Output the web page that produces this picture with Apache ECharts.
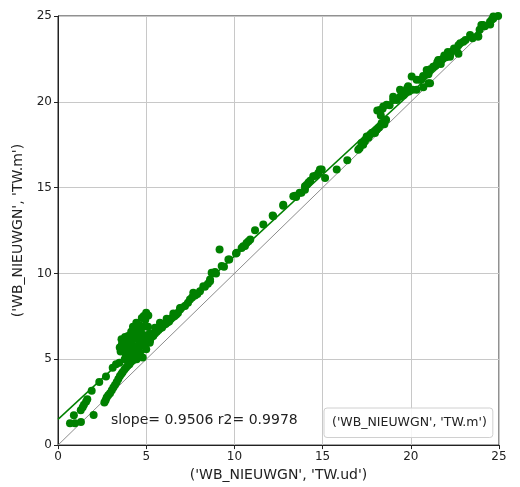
<!DOCTYPE html>
<html>
<head>
<meta charset="utf-8">
<script src="https://cdn.jsdelivr.net/npm/echarts@6/dist/echarts.min.js"></script>
<style>
  html, body { margin: 0; padding: 0; background: #fff; }
  #chart { width: 520px; height: 487px; }
</style>
</head>
<body>
<div id="chart"></div>
<script>
// Water temperature: TW.ud (x) against TW.m (y) at WB_NIEUWGN
const seriesName = "('WB_NIEUWGN', 'TW.m')";
const xAxisTitle = "('WB_NIEUWGN', 'TW.ud')";
const yAxisTitle = "('WB_NIEUWGN', 'TW.m')";
const tickValues = [0, 5, 10, 15, 20, 25];

const twUd = [
  0.68, 0.96, 0.90, 1.30, 1.29, 1.40, 1.47, 1.59, 1.66, 2.02, 1.91, 2.34, 2.72, 3.10, 3.29, 3.48,
  2.63, 2.70, 2.76, 2.85, 2.95, 3.05, 3.14, 3.23, 3.33, 3.42, 3.51, 3.60, 3.67, 3.77, 3.86, 3.95, 4.05, 4.15, 4.25, 4.35,
  3.50, 3.55, 3.60, 3.62, 3.70, 3.75, 3.80, 3.78, 3.85, 3.90, 3.97, 4.00, 4.05, 4.10, 4.15, 4.18, 4.20, 4.25, 4.30, 4.35,
  4.40, 4.44, 4.45, 4.50, 4.55, 4.60, 4.63, 4.65, 4.70, 4.75, 4.75, 4.80, 4.86, 4.90, 4.95, 5.00, 5.00, 5.00, 5.03, 5.10,
  5.12, 5.20, 4.46, 3.95, 4.25, 4.60, 4.85, 4.30, 4.55, 4.80,
  5.20, 5.22, 5.30, 5.40, 5.50, 5.50, 5.60, 5.70, 5.78, 5.78, 5.90, 6.00, 6.10, 6.16, 6.20, 6.30, 6.40, 6.50, 6.54, 6.60,
  6.70, 6.80, 6.92, 6.92, 7.00, 7.20, 7.37, 7.48, 7.60, 7.67, 7.77, 7.90, 8.05, 8.24, 8.33, 8.50, 8.62, 8.62, 8.71, 8.80,
  8.90, 8.96, 9.16, 9.28, 9.41, 9.66, 9.71, 10.09, 10.13, 10.41, 10.50, 10.60, 10.69, 10.80, 10.90, 11.17, 11.64, 12.17,
  12.20, 12.77, 12.77, 13.34, 13.44, 13.50, 13.70, 13.80, 14.00, 14.00, 14.10, 14.20, 14.30, 14.47, 14.60, 14.76, 14.85,
  14.95, 15.14, 15.80, 16.40,
  17.02, 17.10, 17.20, 17.30, 17.40, 17.50, 17.60, 17.70, 17.80, 17.97, 18.07, 18.20, 18.35, 18.50, 18.60, 18.30, 18.10,
  18.25, 18.25, 18.40, 18.44, 18.63, 18.80, 19.00, 19.00, 19.20, 19.39, 19.39, 19.50, 19.60, 19.77, 19.80, 19.85, 19.90,
  20.05, 20.10, 20.33, 20.33, 20.52, 20.60, 20.71, 20.70, 20.90, 21.00, 21.09, 21.00, 21.10, 21.27, 21.40, 21.50, 21.56,
  21.66, 21.70, 21.80, 21.90, 22.00, 22.10, 22.22, 22.22, 22.30, 22.45, 22.60, 22.70, 22.70, 22.80, 22.98, 23.10, 23.36,
  23.50, 23.80, 23.83, 23.90, 24.00, 24.10, 24.20, 24.49, 24.50, 24.60, 24.68, 24.68, 24.95
];
const twM = [
  1.28, 1.28, 1.74, 1.35, 2.03, 2.20, 2.35, 2.52, 2.67, 1.76, 3.16, 3.68, 3.99, 4.51, 4.71, 4.80,
  2.48, 2.62, 2.77, 2.90, 3.02, 3.20, 3.35, 3.50, 3.68, 3.85, 4.03, 4.15, 4.26, 4.40, 4.52, 4.62, 4.71, 4.85, 4.95, 5.05,
  5.68, 5.45, 6.16, 5.87, 5.50, 5.90, 6.30, 5.00, 5.20, 5.70, 6.36, 5.00, 6.00, 5.50, 6.60, 6.55, 5.20, 5.80, 6.20, 5.00,
  6.80, 7.13, 5.60, 6.30, 5.30, 6.00, 5.19, 5.39, 6.60, 7.40, 5.80, 5.10, 7.52, 6.40, 7.30, 7.71, 6.10, 5.58, 5.97, 6.90,
  7.55, 6.50, 5.00, 5.40, 6.90, 7.00, 6.90, 5.45, 6.60, 6.20,
  5.97, 6.10, 6.30, 6.35, 6.50, 6.84, 6.60, 6.70, 7.13, 6.80, 6.85, 7.00, 7.05, 7.36, 7.15, 7.20, 7.35, 7.45, 7.67, 7.50,
  7.60, 7.70, 7.99, 7.90, 8.00, 8.10, 8.30, 8.49, 8.60, 8.88, 8.72, 8.80, 8.97, 9.26, 9.22, 9.40, 9.55, 9.65, 10.04, 10.02,
  10.08, 10.00, 11.40, 10.43, 10.39, 10.81, 10.81, 11.16, 11.20, 11.49, 11.59, 11.60, 11.78, 11.88, 11.98, 12.52, 12.85, 13.37,
  13.33, 13.95, 14.00, 14.50, 14.53, 14.45, 14.70, 14.70, 14.88, 15.08, 15.17, 15.30, 15.40, 15.66, 15.70, 15.85, 16.05,
  16.05, 15.56, 16.05, 16.59,
  17.21, 17.30, 17.60, 17.50, 17.70, 17.98, 17.90, 18.10, 18.20, 18.18, 18.37, 18.50, 18.76, 18.70, 18.95, 19.20, 19.50,
  19.44, 19.53, 19.60, 19.73, 19.83, 19.80, 20.10, 20.30, 20.10, 20.30, 20.70, 20.50, 20.40, 20.70, 20.80, 20.90, 20.60,
  21.47, 20.70, 20.70, 21.28, 21.28, 21.30, 20.85, 21.50, 21.86, 21.08, 21.08, 21.60, 21.90, 22.05, 22.10, 22.30, 22.44,
  22.44, 22.20, 22.50, 22.70, 22.60, 22.90, 22.63, 22.73, 22.90, 23.10, 23.00, 22.80, 23.30, 23.41, 23.50, 23.60, 23.90,
  23.70, 23.80, 23.80, 24.20, 24.48, 24.48, 24.40, 24.67, 24.50, 24.80, 24.97, 24.86, 25.00
];

// Linear fit reported on the chart
const fitSlope = 0.9506;
const fitIntercept = 1.5;
const fitR2 = 0.9978;

const axisMin = 0;
const axisMax = 25;

const points = twUd.map((x, i) => [x, twM[i]]);
const fitLine = [axisMin, axisMax].map(x => [x, fitIntercept + fitSlope * x]);
const identityLine = [[axisMin, axisMin], [axisMax, axisMax]];

const fontFamily = "'DejaVu Sans', sans-serif";

const axisCommon = {
  type: 'value',
  min: axisMin,
  max: axisMax,
  interval: 5,
  axisLine: { show: true, onZero: false, lineStyle: { color: '#222', width: 1 } },
  axisTick: { show: true, inside: false, length: 4, lineStyle: { color: '#222' } },
  splitLine: { show: true, lineStyle: { color: '#c8c8c8', width: 1 } },
  nameLocation: 'middle',
  nameTextStyle: { fontFamily, fontSize: 14, color: '#222' }
};

const chart = echarts.init(document.getElementById('chart'), null, { renderer: 'canvas' });
chart.setOption({
  animation: false,
  backgroundColor: '#fff',
  textStyle: { fontFamily },
  grid: {
    left: 58, right: 21, top: 16, bottom: 41,
    show: true, borderColor: '#222', borderWidth: 1, backgroundColor: 'transparent'
  },
  xAxis: Object.assign({}, axisCommon, {
    name: xAxisTitle,
    nameGap: 14,
    axisLabel: { margin: 6, fontFamily, fontSize: 12, color: '#222' }
  }),
  yAxis: Object.assign({}, axisCommon, {
    name: yAxisTitle,
    nameGap: 29,
    axisLabel: { margin: 6, fontFamily, fontSize: 12, color: '#222' }
  }),
  legend: {
    data: [{ name: seriesName, icon: 'none' }],
    left: 324, top: 408,
    itemWidth: 0, itemHeight: 14,
    padding: [8, 6, 8, 3],
    backgroundColor: 'rgba(255,255,255,0.85)',
    borderColor: '#d0d0d0', borderWidth: 1, borderRadius: 3,
    selectedMode: false,
    textStyle: { fontFamily, fontSize: 12.5, color: '#222' }
  },
  graphic: [{
    type: 'text',
    left: 111, top: 413,
    style: {
      text: 'slope= ' + fitSlope.toFixed(4) + ' r2= ' + fitR2.toFixed(4),
      font: "14px 'DejaVu Sans', sans-serif",
      fill: '#222'
    },
    z: 100
  }],
  series: [
    {
      name: 'identity',
      type: 'line',
      data: identityLine,
      showSymbol: false,
      lineStyle: { color: '#8c8c8c', width: 1 },
      z: 1,
      silent: true
    },
    {
      name: seriesName,
      type: 'scatter',
      data: points,
      symbol: 'circle',
      symbolSize: 8,
      itemStyle: { color: '#008000', opacity: 1 },
      z: 2
    },
    {
      name: 'fit',
      type: 'line',
      data: fitLine,
      showSymbol: false,
      clip: true,
      lineStyle: { color: '#008000', width: 1.5 },
      z: 3,
      silent: true
    }
  ]
});
</script>
</body>
</html>
